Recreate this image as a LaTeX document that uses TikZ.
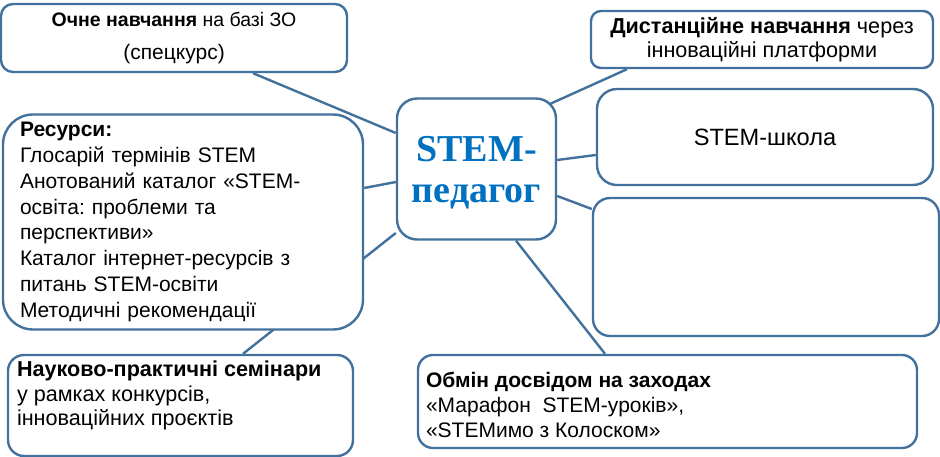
\documentclass[tikz,border=0pt]{standalone}
\usepackage{fontspec}
\setmainfont{Liberation Sans}
\newfontfamily\serifbold{Liberation Serif}
\usetikzlibrary{positioning,calc,backgrounds}
\definecolor{stemline}{HTML}{41719C}
\definecolor{stemtitle}{HTML}{0070C0}
\frenchspacing

\begin{document}
\begin{tikzpicture}[
      x=1pt,y=-1pt,
      region/.style={draw=stemline,line width=2.4pt,fill=white,inner sep=0pt,align=center,
                  font=\fontsize{21}{25}\selectfont},
      lbl/.style={anchor=north west,inner sep=0pt,align=left,
                  font=\fontsize{21}{25}\selectfont},
      core/.style={region,font=\serifbold\bfseries\fontsize{38}{41}\selectfont,text=stemtitle},
      link/.style={draw=stemline,line width=2.4pt}]
    \useasboundingbox (0,0) rectangle (940,457);
    % boxes
    \node[region,rounded corners=12pt,minimum width=346pt,minimum height=68pt,
          font=\fontsize{21}{33}\selectfont] (och) at (174,38)
          {{\fontsize{19.5}{33}\selectfont\textbf{Очне навчання} на базі ЗО}\\(спецкурс)};
    \node[region,rounded corners=30pt,minimum width=360pt,minimum height=215pt,
          text width=326pt,align=left,font=\fontsize{21}{25.8}\selectfont] (res) at (183,222)
          {\textbf{Ресурси:}\\Глосарій термінів STEM\\Анотований каталог «STEM-\\освіта: проблеми та\\перспективи»\\Каталог інтернет-ресурсів з\\питань STEM-освіти\\Методичні рекомендації};
    \node[region,rounded corners=16pt,minimum width=345pt,minimum height=101pt] (nauk) at (180.5,405.5) {};
    \node[core,rounded corners=20pt,minimum width=159pt,minimum height=141pt,text depth=0pt] (cen) at (476.5,169) {STEM-\\педагог};
    \node[region,rounded corners=10pt,minimum width=342pt,minimum height=57pt,
          font=\fontsize{21.6}{24}\selectfont] (dist) at (762,39.5)
          {\textbf{Дистанційне навчання} через\\інноваційні платформи};
    \node[region,rounded corners=20pt,minimum width=336pt,minimum height=96pt,
          font=\fontsize{23.6}{28}\selectfont] (school) at (765,137) {STEM-школа};
    \node[region,rounded corners=17pt,minimum width=346pt,minimum height=138pt] (empty) at (766,267) {};
    \node[region,rounded corners=15pt,minimum width=499pt,minimum height=93pt] (obmin) at (667.5,401.5) {};
    % texts of the lower boxes
    \node[lbl,font=\fontsize{21.6}{24.5}\selectfont] (nauktext) at ([shift={(10,7)}]nauk.north west)
          {\textbf{Науково-практичні семінари}\\у рамках конкурсів,\\інноваційних проєктів};
    \node[lbl] (obmintext) at ([shift={(9,18)}]obmin.north west)
          {\textbf{Обмін досвідом на заходах}\\«Марафон\ \ STEM-уроків»,\\«STEMимо з Колоском»};
    % connectors
    \begin{scope}[on background layer]
      \draw[link] ([shift={(79,0)}]och.south) -- ([shift={(0,-36)}]cen.west);
      \draw[link] ([shift={(0,-34)}]res.east) -- ([shift={(0,13)}]cen.west);
      \draw[link] ([shift={(62.5,0)}]nauk.north) -- ([shift={(0,64)}]cen.west);
      \draw[link] ([shift={(-135,0)}]dist.south) -- ([shift={(-8,7)}]cen.north east);
      \draw[link] ([shift={(0,18)}]school.west) -- ([shift={(0,-9)}]cen.east);
      \draw[link] ([shift={(0,-58)}]empty.west) -- ([shift={(0,27)}]cen.east);
      \draw[link] ([shift={(-62.5,0)}]obmin.north) -- ([shift={(39.5,0)}]cen.south);
    \end{scope}
  \end{tikzpicture}
\end{document}
